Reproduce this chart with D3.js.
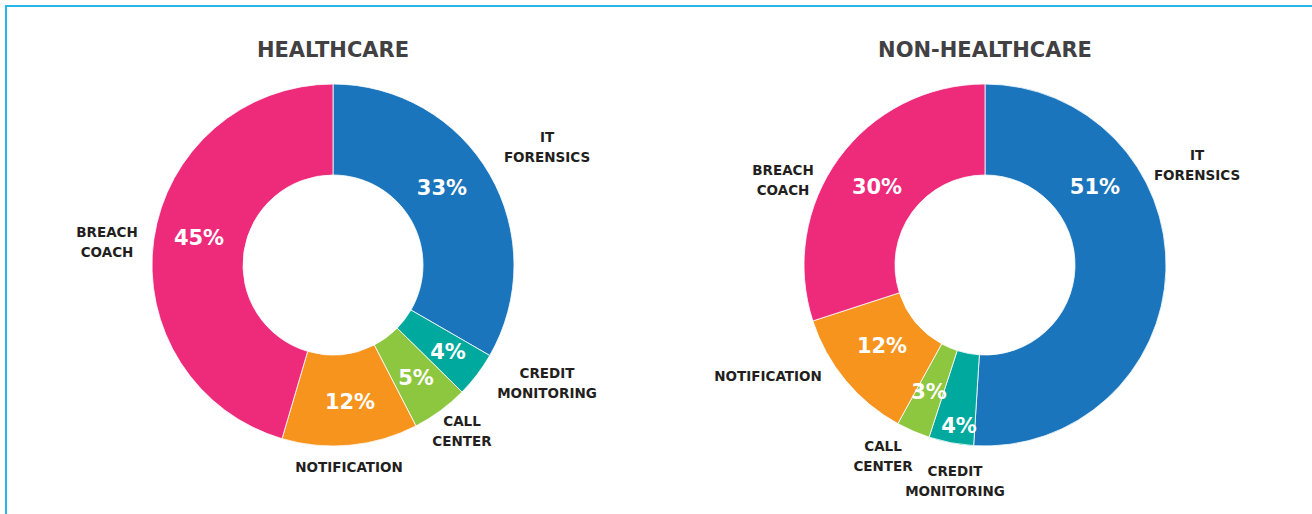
<html>
<head>
<script src="https://d3js.org/d3.v7.min.js"></script>
<style>
    body { margin: 0; background: #fff; }
    .title { font-family: "DejaVu Sans"; font-weight: bold; font-size: 21px; fill: #414042; }
    .pct { font-family: "DejaVu Sans"; font-weight: bold; font-size: 21px; fill: #fff; }
    .lbl { font-family: "DejaVu Sans"; font-weight: bold; font-size: 13.5px; fill: #231f20; }
</style>
</head>
<body>
<svg id="chart" width="1312" height="514"></svg>
<script>
    // categories in clockwise order from 12 o'clock
    const categories = ["IT FORENSICS", "CREDIT MONITORING", "CALL CENTER", "NOTIFICATION", "BREACH COACH"];
    const labelLines = [["IT", "FORENSICS"], ["CREDIT", "MONITORING"], ["CALL", "CENTER"], ["NOTIFICATION"], ["BREACH", "COACH"]];
    const healthcare = [33, 4, 5, 12, 45];
    const nonHealthcare = [51, 4, 3, 12, 30];
    const titles = ["HEALTHCARE", "NON-HEALTHCARE"];
    const colors = ["#1b75bc", "#00a99d", "#8dc63f", "#f7941d", "#ee2a7b"];

    const svg = d3.select("#chart");

    // frame lines (top + left)
    svg.append("line").attr("x1", 5).attr("x2", 1312).attr("y1", 6).attr("y2", 6)
        .attr("stroke", "#27b4e8").attr("stroke-width", 2);
    svg.append("line").attr("x1", 6).attr("x2", 6).attr("y1", 5).attr("y2", 514)
        .attr("stroke", "#27b4e8").attr("stroke-width", 2);

    const outerR = 181, innerR = 90;
    const pie = d3.pie().sort(null).value(d => d);
    const arc = d3.arc().innerRadius(innerR).outerRadius(outerR);

    // where the outside labels sit, relative to donut centre
    const labelSpots = [
        [[214, -118], [214, 118], [129, 166], [16, 202], [-226, -23]],
        [[212, -100], [-30, 216], [-102, 191], [-217, 111], [-202, -85]]
    ];
    // percent labels inside the ring, placed by hand (null = arc centroid)
    const pctSpots = [
        [[109, -77], [115, 87], [83, 113], [17, 137], [-134, -27]],
        [[110, -78], [-26, 161], [-56, 127], [-103, 81], [-108, -78]]
    ];

    function donut(values, title, cx, spots, pspots) {
        const g = svg.append("g").attr("transform", `translate(${cx},265)`);
        g.append("text").attr("class", "title").attr("text-anchor", "middle")
            .attr("y", -208).text(title);

        const arcs = pie(values);
        g.selectAll("path").data(arcs).join("path")
            .attr("d", arc)
            .attr("fill", (d, i) => colors[i])
            .attr("stroke", "#fff").attr("stroke-width", 0.8);

        const pos = (d, i) => pspots ? pspots[i] : arc.centroid(d);
        g.selectAll("text.pct").data(arcs).join("text")
            .attr("class", "pct").attr("text-anchor", "middle")
            .attr("x", (d, i) => pos(d, i)[0])
            .attr("y", (d, i) => pos(d, i)[1])
            .attr("dy", "0.35em")
            .text(d => d.data + "%");

        labelLines.forEach((lines, i) => {
            const t = g.append("text").attr("class", "lbl").attr("text-anchor", "middle")
                .attr("x", spots[i][0])
                .attr("y", spots[i][1] - (lines.length - 1) * 10);
            lines.forEach((ln, j) => {
                t.append("tspan").attr("x", spots[i][0]).attr("dy", j === 0 ? "0.35em" : 20).text(ln);
            });
        });
    }

    donut(healthcare, titles[0], 333, labelSpots[0], pctSpots[0]);
    donut(nonHealthcare, titles[1], 985, labelSpots[1], pctSpots[1]);
</script>
</body>
</html>
